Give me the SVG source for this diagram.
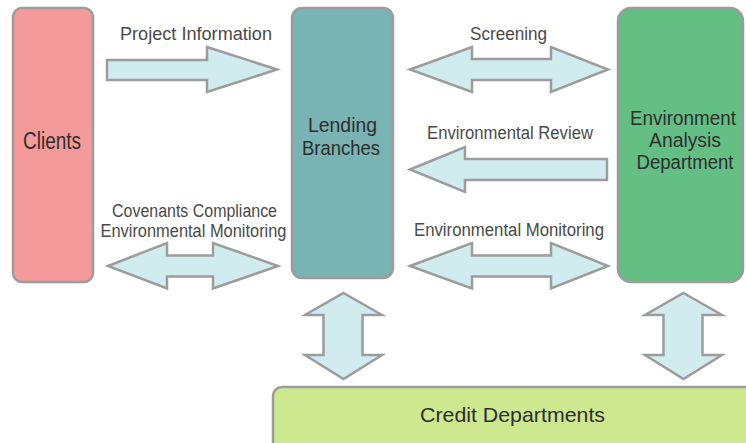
<svg xmlns="http://www.w3.org/2000/svg" width="746" height="443" viewBox="0 0 746 443">
  <style>
    .box { stroke: #9c9c9c; stroke-width: 2.5; }
    .arrow { fill: #d1ecee; stroke: #9c9c9c; stroke-width: 2.5; stroke-linejoin: miter; }
    .lbl { font-family: "Liberation Sans", Arial, sans-serif; font-size: 18px; fill: #4a4a4a; text-anchor: middle; }
    .node { font-family: "Liberation Sans", Arial, sans-serif; fill: #2e2e2e; text-anchor: middle; }
  </style>
  <rect width="746" height="443" fill="#ffffff"/>

  <g id="clients">
    <rect class="box" x="13" y="8" width="80" height="274" rx="9" fill="#f59a9a"/>
    <text class="node" x="52" y="149" font-size="23" textLength="58" lengthAdjust="spacingAndGlyphs">Clients</text>
  </g>

  <g id="lending-branches">
    <rect class="box" x="292" y="8" width="101" height="270" rx="10" fill="#79b3b3"/>
    <text class="node" x="342.5" y="132" font-size="20" textLength="69" lengthAdjust="spacingAndGlyphs">Lending</text>
    <text class="node" x="341" y="155" font-size="20" textLength="78" lengthAdjust="spacingAndGlyphs">Branches</text>
  </g>

  <g id="environment-analysis">
    <rect class="box" x="618" y="8" width="125" height="274" rx="13" fill="#64bf85"/>
    <text class="node" x="683" y="125" font-size="20" textLength="106" lengthAdjust="spacingAndGlyphs">Environment</text>
    <text class="node" x="685" y="147" font-size="20" textLength="72" lengthAdjust="spacingAndGlyphs">Analysis</text>
    <text class="node" x="685" y="169" font-size="20" textLength="97" lengthAdjust="spacingAndGlyphs">Department</text>
  </g>

  <g id="credit-departments">
    <rect class="box" x="273" y="387" width="482" height="70" rx="9" fill="#cee88f"/>
    <text class="node" x="512.5" y="422" font-size="21" textLength="185" lengthAdjust="spacingAndGlyphs">Credit Departments</text>
  </g>

  <g id="connectors">
    <!-- Clients to Lending Branches -->
    <path class="arrow" d="M107,60 H207 V47 L277,69.5 L207,92 V80 H107 Z"/>
    <text class="lbl" x="196" y="40" textLength="152" lengthAdjust="spacingAndGlyphs">Project Information</text>

    <!-- Lending Branches and Environment Analysis: screening -->
    <path class="arrow" d="M410,69.5 L472,47 V59 H551 V47 L608,69.5 L551,92 V80 H472 V92 Z"/>
    <text class="lbl" x="508.5" y="40" textLength="77" lengthAdjust="spacingAndGlyphs">Screening</text>

    <!-- Environment Analysis back to Lending Branches -->
    <path class="arrow" d="M410,169.5 L465,147 V159 H607 V180 H465 V192 Z"/>
    <text class="lbl" x="510" y="139" textLength="166" lengthAdjust="spacingAndGlyphs">Environmental Review</text>

    <!-- Monitoring between Lending Branches and Environment Analysis -->
    <path class="arrow" d="M410,266 L472,243 V255.5 H551 V243 L608,266 L551,288.5 V276.5 H472 V288.5 Z"/>
    <text class="lbl" x="509" y="236" textLength="190" lengthAdjust="spacingAndGlyphs">Environmental Monitoring</text>

    <!-- Clients and Lending Branches: covenants -->
    <path class="arrow" d="M108,266 L167,243 V255.5 H213 V243 L278,266 L213,288.5 V276.5 H167 V288.5 Z"/>
    <text class="lbl" x="194.5" y="217" textLength="165" lengthAdjust="spacingAndGlyphs">Covenants Compliance</text>
    <text class="lbl" x="193.5" y="237" textLength="186" lengthAdjust="spacingAndGlyphs">Environmental Monitoring</text>

    <!-- Vertical links to Credit Departments -->
    <path class="arrow" d="M343.5,293 L382,315 H362.5 V355 H382 L343.5,379 L305,355 H323.5 V315 H305 Z"/>
    <path class="arrow" d="M683.5,293 L722,315 H702.5 V355 H722 L683.5,379 L645,355 H663.5 V315 H645 Z"/>
  </g>
</svg>
